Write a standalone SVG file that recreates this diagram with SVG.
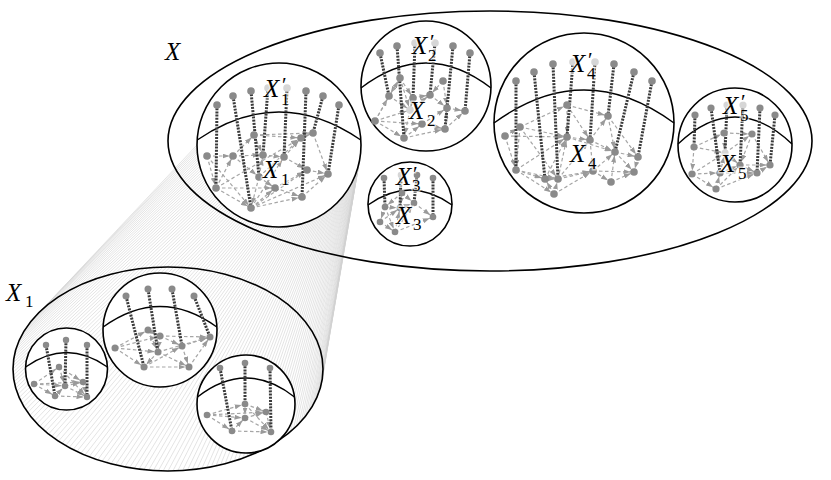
<svg xmlns="http://www.w3.org/2000/svg" width="831" height="480" viewBox="0 0 831 480">
<style>
.hatch{stroke:#d2d2d2;stroke-width:0.6;fill:none}
.ring{fill:#fff;stroke:#000;stroke-width:1.6}
.outline{fill:none;stroke:#000;stroke-width:1.6}
.arc{fill:none;stroke:#000;stroke-width:1.4}
.e{stroke:#a6a6a6;stroke-width:1.2;stroke-dasharray:3.5 2.5;fill:none;marker-end:url(#ah)}
.p{stroke:#3a3a3a;stroke-width:3;stroke-dasharray:2 1.2}
.n{fill:#8a8a8a}
.nl{fill:#d6d6d6}
.lab{font-family:"Liberation Serif","DejaVu Serif",serif;font-style:italic;font-size:25px;fill:#000;paint-order:stroke;stroke:#fff;stroke-opacity:0.6;stroke-width:3px}
.sub{font-style:normal;font-size:17px}
.pr{font-style:normal;font-size:21px}
</style>
<defs>
<marker id="ah" viewBox="0 0 7 5" refX="10.5" refY="2.5" markerWidth="7" markerHeight="5" markerUnits="userSpaceOnUse" orient="auto"><path d="M0,0 L7,2.5 L0,5 z" fill="#9a9a9a"/></marker>
</defs>

<g id="cone">
<path class="hatch" d="M361,145L323,369M360.9,149.3L322.7,375.4M360.6,153.6L321.8,381.8M360,157.8L320.3,388.1M359.2,162.1L318.1,394.4M358.2,166.2L315.4,400.5M357,170.3L312.1,406.6M355.6,174.4L308.3,412.4M353.9,178.4L303.8,418.1M352.1,182.2L298.9,423.7M350,186L293.4,429M347.8,189.7L287.4,434M345.3,193.2L281,438.8M342.7,196.6L274.1,443.4M339.9,199.9L266.8,447.6M337,203L259.1,451.5M333.9,205.9L251.1,455.1M330.6,208.7L242.7,458.4M327.2,211.3L234,461.3M323.7,213.8L225.1,463.8M320,216L215.9,466M316.2,218.1L206.6,467.8M312.4,219.9L197,469.2M308.4,221.6L187.4,470.2M304.3,223L177.7,470.8M300.2,224.2L168,471M296.1,225.2L158.3,470.8M291.8,226L148.6,470.2M287.6,226.6L139,469.2M283.3,226.9L129.5,467.8M279,227L120.1,466M274.7,226.9L110.9,463.8M270.4,226.6L102,461.3M266.2,226L93.3,458.4M262,225.2L85,455.1M257.8,224.2L76.9,451.5M253.7,223L69.2,447.6M249.6,221.6L61.9,443.4M245.7,219.9L55,438.8M241.8,218.1L48.6,434M238,216L42.6,429M234.3,213.8L37.1,423.7M230.8,211.3L32.2,418.1M227.4,208.7L27.8,412.4M224.1,205.9L23.9,406.6M221,203L20.6,400.5M218.1,199.9L17.9,394.4M215.3,196.6L15.8,388.1M212.7,193.2L14.2,381.8M210.2,189.7L13.3,375.4M208,186L13,369M205.9,182.2L13.3,362.6M204.1,178.4L14.2,356.2M202.4,174.4L15.8,349.9M201,170.3L17.9,343.6M199.8,166.2L20.6,337.5M198.8,162.1L23.9,331.5M198,157.8L27.8,325.6M197.5,153.6L32.2,319.9M197.1,149.3L37.1,314.4M197,145L42.6,309.1"/>
<path class="hatch" d="M361,147.2L322.9,372.2M360.7,151.4L322.2,378.6M360.3,155.7L321,385M359.6,159.9L319.2,391.2M358.7,164.1L316.8,397.5M357.6,168.3L313.8,403.5M356.3,172.4L310.2,409.5M354.7,176.4L306,415.3M353,180.3L301.4,420.9M351,184.1L296.1,426.3M348.9,187.8L290.4,431.5M346.6,191.4L284.2,436.4M344,194.9L277.6,441.1M341.3,198.2L270.5,445.5M338.5,201.4L263,449.6M335.4,204.5L255.1,453.3M332.2,207.3L246.9,456.8M328.9,210L238.3,459.8M325.4,212.6L229.5,462.6M321.8,214.9L220.5,464.9M318.1,217L211.2,466.9M314.3,219L201.8,468.5M310.4,220.7L192.2,469.7M306.4,222.3L182.6,470.5M302.3,223.6L172.9,470.9M298.1,224.7L163.1,470.9M293.9,225.6L153.4,470.5M289.7,226.3L143.8,469.7M285.4,226.7L134.2,468.5M281.2,227L124.8,466.9M276.9,227L115.5,464.9M272.6,226.7L106.5,462.6M268.3,226.3L97.7,459.8M264.1,225.6L89.1,456.8M259.9,224.7L80.9,453.3M255.7,223.6L73.1,449.6M251.6,222.3L65.6,445.5M247.6,220.7L58.5,441.1M243.7,219L51.8,436.4M239.9,217L45.6,431.5M236.2,214.9L39.9,426.3M232.6,212.6L34.7,420.9M229.1,210L30,415.3M225.8,207.3L25.8,409.5M222.6,204.5L22.2,403.5M219.6,201.4L19.2,397.5M216.7,198.2L16.8,391.2M214,194.9L15,385M211.5,191.4L13.8,378.6M209.1,187.8L13.2,372.2M207,184.1L13.2,365.8M205,180.3L13.8,359.4M203.3,176.4L15,353.1M201.7,172.4L16.8,346.8M200.4,168.3L19.2,340.6M199.3,164.1L22.2,334.5M198.4,159.9L25.8,328.5M197.8,155.7L30,322.7M197.3,151.4L34.7,317.1M197.1,147.2L39.9,311.7"/>
</g>

<g id="X">
<ellipse class="outline" cx="490" cy="141" rx="322" ry="130"/>
<text class="lab" x="165" y="60">X</text>
</g>

<g id="X1big">
<ellipse class="outline" cx="168" cy="369" rx="155" ry="102"/>
<text class="lab" x="6" y="301">X<tspan class="sub" x="25" y="307">1</tspan></text>
</g>

<g id="X1">
<circle class="ring" cx="279" cy="145" r="82"/>
<path class="arc" d="M197.2,140 Q279,84 360.8,140"/>
<g>
<line class="e" x1="207" y1="156" x2="233" y2="156"/>
<line class="e" x1="207" y1="156" x2="216" y2="188"/>
<line class="e" x1="216" y1="188" x2="251" y2="208"/>
<line class="e" x1="207" y1="156" x2="251" y2="208"/>
<line class="e" x1="233" y1="156" x2="254" y2="135"/>
<line class="e" x1="233" y1="156" x2="259" y2="177"/>
<line class="e" x1="216" y1="188" x2="275" y2="188"/>
<line class="e" x1="251" y1="208" x2="275" y2="188"/>
<line class="e" x1="259" y1="177" x2="251" y2="208"/>
<line class="e" x1="251" y1="208" x2="302" y2="197"/>
<line class="e" x1="251" y1="208" x2="328" y2="174"/>
<line class="e" x1="251" y1="208" x2="307" y2="170"/>
<line class="e" x1="259" y1="177" x2="263" y2="155"/>
<line class="e" x1="259" y1="177" x2="275" y2="188"/>
<line class="e" x1="254" y1="135" x2="263" y2="155"/>
<line class="e" x1="254" y1="135" x2="301" y2="138"/>
<line class="e" x1="263" y1="155" x2="284" y2="157"/>
<line class="e" x1="284" y1="157" x2="301" y2="138"/>
<line class="e" x1="284" y1="157" x2="307" y2="170"/>
<line class="e" x1="301" y1="138" x2="313" y2="133"/>
<line class="e" x1="313" y1="133" x2="328" y2="174"/>
<line class="e" x1="307" y1="170" x2="328" y2="174"/>
<line class="e" x1="302" y1="197" x2="328" y2="174"/>
<line class="e" x1="275" y1="188" x2="302" y2="197"/>
<line class="e" x1="275" y1="188" x2="307" y2="170"/>
<line class="e" x1="233" y1="156" x2="263" y2="155"/>
<line class="e" x1="254" y1="135" x2="313" y2="133"/>
<line class="e" x1="216" y1="188" x2="233" y2="156"/>
<line class="e" x1="251" y1="208" x2="284" y2="157"/>
<line class="e" x1="259" y1="177" x2="301" y2="138"/>
<line class="e" x1="216" y1="188" x2="301" y2="138"/>
</g>
<g>
<line class="p" x1="217" y1="105" x2="216" y2="188"/>
<line class="p" x1="233" y1="96" x2="251" y2="208"/>
<line class="p" x1="251" y1="91" x2="259" y2="177"/>
<line class="p" x1="268" y1="88" x2="263" y2="155"/>
<line class="p" x1="287" y1="88" x2="284" y2="157"/>
<line class="p" x1="306" y1="91" x2="302" y2="197"/>
<line class="p" x1="323" y1="96" x2="313" y2="133"/>
<line class="p" x1="339" y1="105" x2="328" y2="174"/>
</g>
<g>
<circle class="n" cx="217" cy="105" r="3.8"/><circle class="n" cx="233" cy="96" r="3.8"/><circle class="n" cx="251" cy="91" r="3.8"/><circle class="nl" cx="268" cy="88" r="3.8"/><circle class="nl" cx="287" cy="88" r="3.8"/><circle class="n" cx="306" cy="91" r="3.8"/><circle class="n" cx="323" cy="96" r="3.8"/><circle class="n" cx="339" cy="105" r="3.8"/>
<circle class="n" cx="216" cy="188" r="3.8"/><circle class="n" cx="251" cy="208" r="3.8"/><circle class="n" cx="259" cy="177" r="3.8"/><circle class="n" cx="263" cy="155" r="3.8"/><circle class="n" cx="284" cy="157" r="3.8"/><circle class="n" cx="302" cy="197" r="3.8"/><circle class="n" cx="313" cy="133" r="3.8"/><circle class="n" cx="328" cy="174" r="3.8"/>
<circle class="n" cx="207" cy="156" r="3.8"/><circle class="n" cx="233" cy="156" r="3.8"/><circle class="n" cx="254" cy="135" r="3.8"/><circle class="n" cx="301" cy="138" r="3.8"/><circle class="n" cx="275" cy="188" r="3.8"/><circle class="n" cx="307" cy="170" r="3.8"/>
</g>
<text class="lab" x="264" y="97">X<tspan class="pr" x="282" y="92">′</tspan><tspan class="sub" x="281" y="105">1</tspan></text>
<text class="lab" x="263" y="178">X<tspan class="sub" x="281" y="185">1</tspan></text>
</g>

<g id="X2">
<circle class="ring" cx="426" cy="86" r="65"/>
<path class="arc" d="M361,88 Q426,38 491,88"/>
<g>
<line class="e" x1="375" y1="121" x2="389" y2="96"/>
<line class="e" x1="375" y1="121" x2="404" y2="138"/>
<line class="e" x1="375" y1="121" x2="422" y2="124"/>
<line class="e" x1="375" y1="121" x2="410" y2="110"/>
<line class="e" x1="400" y1="78" x2="389" y2="96"/>
<line class="e" x1="389" y1="96" x2="410" y2="110"/>
<line class="e" x1="400" y1="78" x2="410" y2="110"/>
<line class="e" x1="400" y1="78" x2="413" y2="98"/>
<line class="e" x1="404" y1="138" x2="422" y2="124"/>
<line class="e" x1="410" y1="110" x2="404" y2="138"/>
<line class="e" x1="404" y1="138" x2="445" y2="129"/>
<line class="e" x1="422" y1="124" x2="445" y2="129"/>
<line class="e" x1="422" y1="124" x2="447" y2="108"/>
<line class="e" x1="413" y1="98" x2="410" y2="110"/>
<line class="e" x1="410" y1="110" x2="430" y2="95"/>
<line class="e" x1="413" y1="98" x2="430" y2="95"/>
<line class="e" x1="443" y1="81" x2="430" y2="95"/>
<line class="e" x1="443" y1="81" x2="447" y2="108"/>
<line class="e" x1="447" y1="108" x2="465" y2="111"/>
<line class="e" x1="445" y1="129" x2="465" y2="111"/>
<line class="e" x1="445" y1="129" x2="447" y2="108"/>
<line class="e" x1="430" y1="95" x2="447" y2="108"/>
<line class="e" x1="375" y1="121" x2="400" y2="78"/>
</g>
<g>
<line class="p" x1="380" y1="53" x2="389" y2="96"/>
<line class="p" x1="397" y1="46" x2="404" y2="138"/>
<line class="p" x1="415" y1="43" x2="413" y2="98"/>
<line class="p" x1="435" y1="43" x2="430" y2="95"/>
<line class="p" x1="453" y1="46" x2="445" y2="129"/>
<line class="p" x1="470" y1="53" x2="465" y2="111"/>
</g>
<g>
<circle class="n" cx="380" cy="53" r="3.8"/><circle class="n" cx="397" cy="46" r="3.8"/><circle class="nl" cx="415" cy="43" r="3.8"/><circle class="nl" cx="435" cy="43" r="3.8"/><circle class="n" cx="453" cy="46" r="3.8"/><circle class="n" cx="470" cy="53" r="3.8"/>
<circle class="n" cx="389" cy="96" r="3.8"/><circle class="n" cx="404" cy="138" r="3.8"/><circle class="n" cx="413" cy="98" r="3.8"/><circle class="n" cx="430" cy="95" r="3.8"/><circle class="n" cx="445" cy="129" r="3.8"/><circle class="n" cx="465" cy="111" r="3.8"/>
<circle class="n" cx="400" cy="78" r="3.8"/><circle class="n" cx="443" cy="81" r="3.8"/><circle class="n" cx="375" cy="121" r="3.8"/><circle class="n" cx="422" cy="124" r="3.8"/><circle class="n" cx="447" cy="108" r="3.8"/><circle class="nl" cx="410" cy="110" r="3.8"/>
</g>
<text class="lab" x="412" y="54">X<tspan class="pr" x="430" y="49">′</tspan><tspan class="sub" x="428" y="61">2</tspan></text>
<text class="lab" x="409" y="119">X<tspan class="sub" x="427" y="126">2</tspan></text>
</g>

<g id="X3">
<circle class="ring" cx="410" cy="204" r="42"/>
<path class="arc" d="M368,205 Q410,175 452,205"/>
<g>
<line class="e" x1="385" y1="207" x2="380" y2="222"/>
<line class="e" x1="385" y1="207" x2="395" y2="232"/>
<line class="e" x1="385" y1="207" x2="400" y2="208"/>
<line class="e" x1="395" y1="232" x2="400" y2="208"/>
<line class="e" x1="400" y1="208" x2="414" y2="203"/>
<line class="e" x1="402" y1="193" x2="400" y2="208"/>
<line class="e" x1="402" y1="193" x2="414" y2="203"/>
<line class="e" x1="414" y1="203" x2="433" y2="217"/>
<line class="e" x1="380" y1="222" x2="395" y2="232"/>
<line class="e" x1="395" y1="232" x2="433" y2="217"/>
<line class="e" x1="380" y1="222" x2="400" y2="208"/>
<line class="e" x1="402" y1="193" x2="385" y2="207"/>
<line class="e" x1="395" y1="232" x2="414" y2="203"/>
</g>
<g>
<line class="p" x1="384" y1="178" x2="385" y2="207"/>
<line class="p" x1="401" y1="175" x2="400" y2="208"/>
<line class="p" x1="417" y1="175" x2="414" y2="203"/>
<line class="p" x1="433" y1="178" x2="433" y2="217"/>
</g>
<g>
<circle class="n" cx="384" cy="178" r="3.3"/><circle class="nl" cx="401" cy="175" r="3.3"/><circle class="n" cx="417" cy="175" r="3.3"/><circle class="n" cx="433" cy="178" r="3.3"/>
<circle class="n" cx="385" cy="207" r="3.3"/><circle class="n" cx="400" cy="208" r="3.3"/><circle class="n" cx="414" cy="203" r="3.3"/><circle class="n" cx="433" cy="217" r="3.3"/>
<circle class="n" cx="380" cy="222" r="3.3"/><circle class="n" cx="395" cy="232" r="3.3"/><circle class="n" cx="402" cy="193" r="3.3"/>
</g>
<text class="lab" x="396" y="185">X<tspan class="pr" x="413" y="181">′</tspan><tspan class="sub" x="412" y="191">3</tspan></text>
<text class="lab" x="396" y="224">X<tspan class="sub" x="413" y="230">3</tspan></text>
</g>

<g id="X4">
<circle class="ring" cx="584" cy="123" r="90"/>
<path class="arc" d="M494,123 Q584,57 674,123"/>
<g>
<line class="e" x1="505" y1="136" x2="520" y2="127"/>
<line class="e" x1="505" y1="136" x2="516" y2="170"/>
<line class="e" x1="520" y1="127" x2="516" y2="170"/>
<line class="e" x1="520" y1="127" x2="567" y2="137"/>
<line class="e" x1="520" y1="127" x2="567" y2="105"/>
<line class="e" x1="516" y1="170" x2="545" y2="179"/>
<line class="e" x1="516" y1="170" x2="558" y2="179"/>
<line class="e" x1="516" y1="170" x2="554" y2="194"/>
<line class="e" x1="545" y1="179" x2="558" y2="179"/>
<line class="e" x1="545" y1="179" x2="567" y2="137"/>
<line class="e" x1="554" y1="194" x2="545" y2="179"/>
<line class="e" x1="558" y1="179" x2="567" y2="137"/>
<line class="e" x1="558" y1="179" x2="590" y2="140"/>
<line class="e" x1="558" y1="179" x2="593" y2="171"/>
<line class="e" x1="554" y1="194" x2="558" y2="179"/>
<line class="e" x1="554" y1="194" x2="593" y2="171"/>
<line class="e" x1="567" y1="137" x2="590" y2="140"/>
<line class="e" x1="567" y1="105" x2="567" y2="137"/>
<line class="e" x1="567" y1="105" x2="608" y2="116"/>
<line class="e" x1="590" y1="140" x2="608" y2="116"/>
<line class="e" x1="590" y1="140" x2="615" y2="152"/>
<line class="e" x1="590" y1="140" x2="593" y2="171"/>
<line class="e" x1="608" y1="116" x2="615" y2="152"/>
<line class="e" x1="608" y1="116" x2="638" y2="157"/>
<line class="e" x1="615" y1="152" x2="638" y2="157"/>
<line class="e" x1="593" y1="171" x2="615" y2="152"/>
<line class="e" x1="611" y1="182" x2="615" y2="152"/>
<line class="e" x1="615" y1="152" x2="634" y2="172"/>
<line class="e" x1="593" y1="171" x2="611" y2="182"/>
<line class="e" x1="611" y1="182" x2="634" y2="172"/>
<line class="e" x1="638" y1="157" x2="634" y2="172"/>
<line class="e" x1="593" y1="171" x2="634" y2="172"/>
<line class="e" x1="545" y1="179" x2="593" y2="171"/>
<line class="e" x1="567" y1="137" x2="615" y2="152"/>
<line class="e" x1="520" y1="127" x2="558" y2="179"/>
<line class="e" x1="505" y1="136" x2="567" y2="137"/>
<line class="e" x1="567" y1="105" x2="590" y2="140"/>
<line class="e" x1="516" y1="170" x2="567" y2="137"/>
</g>
<g>
<line class="p" x1="516" y1="81" x2="516" y2="170"/>
<line class="p" x1="534" y1="72" x2="545" y2="179"/>
<line class="p" x1="553" y1="64" x2="558" y2="179"/>
<line class="p" x1="573" y1="62" x2="567" y2="137"/>
<line class="p" x1="595" y1="62" x2="590" y2="140"/>
<line class="p" x1="614" y1="64" x2="608" y2="116"/>
<line class="p" x1="634" y1="72" x2="615" y2="152"/>
<line class="p" x1="652" y1="81" x2="638" y2="157"/>
</g>
<g>
<circle class="n" cx="516" cy="81" r="3.8"/><circle class="n" cx="534" cy="72" r="3.8"/><circle class="n" cx="553" cy="64" r="3.8"/><circle class="nl" cx="573" cy="62" r="3.8"/><circle class="nl" cx="595" cy="62" r="3.8"/><circle class="n" cx="614" cy="64" r="3.8"/><circle class="n" cx="634" cy="72" r="3.8"/><circle class="n" cx="652" cy="81" r="3.8"/>
<circle class="n" cx="516" cy="170" r="3.8"/><circle class="n" cx="545" cy="179" r="3.8"/><circle class="n" cx="558" cy="179" r="3.8"/><circle class="n" cx="567" cy="137" r="3.8"/><circle class="n" cx="590" cy="140" r="3.8"/><circle class="n" cx="608" cy="116" r="3.8"/><circle class="n" cx="615" cy="152" r="3.8"/><circle class="n" cx="638" cy="157" r="3.8"/>
<circle class="n" cx="505" cy="136" r="3.8"/><circle class="n" cx="520" cy="127" r="3.8"/><circle class="n" cx="567" cy="105" r="3.8"/><circle class="n" cx="593" cy="171" r="3.8"/><circle class="n" cx="611" cy="182" r="3.8"/><circle class="n" cx="554" cy="194" r="3.8"/><circle class="n" cx="634" cy="172" r="3.8"/>
</g>
<text class="lab" x="570" y="72">X<tspan class="pr" x="588" y="67">′</tspan><tspan class="sub" x="587" y="79">4</tspan></text>
<text class="lab" x="570" y="162">X<tspan class="sub" x="588" y="169">4</tspan></text>
</g>

<g id="X5">
<circle class="ring" cx="735" cy="145" r="57"/>
<path class="arc" d="M678,144 Q735,90 792,144"/>
<g>
<line class="e" x1="694" y1="147" x2="692" y2="174"/>
<line class="e" x1="694" y1="147" x2="724" y2="133"/>
<line class="e" x1="694" y1="147" x2="725" y2="153"/>
<line class="e" x1="692" y1="174" x2="720" y2="173"/>
<line class="e" x1="692" y1="174" x2="725" y2="153"/>
<line class="e" x1="692" y1="174" x2="716" y2="189"/>
<line class="e" x1="720" y1="173" x2="725" y2="153"/>
<line class="e" x1="716" y1="189" x2="720" y2="173"/>
<line class="e" x1="720" y1="173" x2="740" y2="165"/>
<line class="e" x1="724" y1="133" x2="725" y2="153"/>
<line class="e" x1="725" y1="153" x2="752" y2="134"/>
<line class="e" x1="725" y1="153" x2="740" y2="165"/>
<line class="e" x1="724" y1="133" x2="752" y2="134"/>
<line class="e" x1="752" y1="134" x2="740" y2="165"/>
<line class="e" x1="752" y1="134" x2="770" y2="165"/>
<line class="e" x1="740" y1="165" x2="757" y2="173"/>
<line class="e" x1="740" y1="165" x2="770" y2="165"/>
<line class="e" x1="757" y1="173" x2="770" y2="165"/>
<line class="e" x1="716" y1="189" x2="757" y2="173"/>
<line class="e" x1="716" y1="189" x2="740" y2="165"/>
<line class="e" x1="720" y1="173" x2="757" y2="173"/>
</g>
<g>
<line class="p" x1="695" y1="115" x2="694" y2="147"/>
<line class="p" x1="711" y1="108" x2="720" y2="173"/>
<line class="p" x1="727" y1="105" x2="725" y2="153"/>
<line class="p" x1="743" y1="105" x2="740" y2="165"/>
<line class="p" x1="760" y1="108" x2="757" y2="173"/>
<line class="p" x1="775" y1="115" x2="770" y2="165"/>
</g>
<g>
<circle class="n" cx="695" cy="115" r="3.6"/><circle class="n" cx="711" cy="108" r="3.6"/><circle class="nl" cx="727" cy="105" r="3.6"/><circle class="nl" cx="743" cy="105" r="3.6"/><circle class="n" cx="760" cy="108" r="3.6"/><circle class="n" cx="775" cy="115" r="3.6"/>
<circle class="n" cx="694" cy="147" r="3.6"/><circle class="n" cx="720" cy="173" r="3.6"/><circle class="nl" cx="725" cy="153" r="3.6"/><circle class="n" cx="740" cy="165" r="3.6"/><circle class="n" cx="757" cy="173" r="3.6"/><circle class="n" cx="770" cy="165" r="3.6"/>
<circle class="n" cx="692" cy="174" r="3.6"/><circle class="n" cx="752" cy="134" r="3.6"/><circle class="n" cx="724" cy="133" r="3.6"/><circle class="n" cx="716" cy="189" r="3.6"/>
</g>
<text class="lab" x="723" y="114">X<tspan class="pr" x="741" y="109">′</tspan><tspan class="sub" x="740" y="121">5</tspan></text>
<text class="lab" x="720" y="172">X<tspan class="sub" x="738" y="179">5</tspan></text>
</g>

<g id="X1a">
<circle class="ring" cx="66.5" cy="369" r="41"/>
<path class="arc" d="M25.6,367 Q66.5,338 107.4,367"/>
<g>
<line class="e" x1="34" y1="384" x2="55" y2="396"/>
<line class="e" x1="34" y1="384" x2="65" y2="386"/>
<line class="e" x1="34" y1="384" x2="59" y2="367"/>
<line class="e" x1="59" y1="367" x2="65" y2="386"/>
<line class="e" x1="59" y1="367" x2="83" y2="382"/>
<line class="e" x1="65" y1="386" x2="83" y2="382"/>
<line class="e" x1="65" y1="386" x2="87" y2="397"/>
<line class="e" x1="55" y1="396" x2="87" y2="397"/>
<line class="e" x1="55" y1="396" x2="65" y2="386"/>
<line class="e" x1="83" y1="382" x2="87" y2="397"/>
<line class="e" x1="34" y1="384" x2="83" y2="382"/>
<line class="e" x1="59" y1="367" x2="87" y2="397"/>
</g>
<g>
<line class="p" x1="46" y1="345" x2="55" y2="396"/>
<line class="p" x1="66" y1="340" x2="65" y2="386"/>
<line class="p" x1="87" y1="345" x2="87" y2="397"/>
</g>
<g>
<circle class="n" cx="46" cy="345" r="3.2"/><circle class="n" cx="66" cy="340" r="3.2"/><circle class="n" cx="87" cy="345" r="3.2"/>
<circle class="n" cx="55" cy="396" r="3.2"/><circle class="n" cx="65" cy="386" r="3.2"/><circle class="n" cx="87" cy="397" r="3.2"/>
<circle class="n" cx="34" cy="384" r="3.2"/><circle class="n" cx="59" cy="367" r="3.2"/><circle class="n" cx="83" cy="382" r="3.2"/>
</g>
</g>

<g id="X1b">
<circle class="ring" cx="160" cy="330" r="57"/>
<path class="arc" d="M103.2,327 Q160,286 216.8,327"/>
<g>
<line class="e" x1="115" y1="348" x2="144" y2="367"/>
<line class="e" x1="115" y1="348" x2="158" y2="352"/>
<line class="e" x1="115" y1="348" x2="148" y2="330"/>
<line class="e" x1="148" y1="330" x2="160" y2="336"/>
<line class="e" x1="148" y1="330" x2="158" y2="352"/>
<line class="e" x1="160" y1="336" x2="158" y2="352"/>
<line class="e" x1="160" y1="336" x2="182" y2="346"/>
<line class="e" x1="158" y1="352" x2="144" y2="367"/>
<line class="e" x1="144" y1="367" x2="189" y2="367"/>
<line class="e" x1="158" y1="352" x2="189" y2="367"/>
<line class="e" x1="182" y1="346" x2="189" y2="367"/>
<line class="e" x1="182" y1="346" x2="210" y2="337"/>
<line class="e" x1="189" y1="367" x2="210" y2="337"/>
<line class="e" x1="144" y1="367" x2="182" y2="346"/>
<line class="e" x1="160" y1="336" x2="210" y2="337"/>
<line class="e" x1="115" y1="348" x2="160" y2="336"/>
<line class="e" x1="158" y1="352" x2="210" y2="337"/>
</g>
<g>
<line class="p" x1="126" y1="296" x2="144" y2="367"/>
<line class="p" x1="148" y1="289" x2="158" y2="352"/>
<line class="p" x1="172" y1="289" x2="182" y2="346"/>
<line class="p" x1="194" y1="296" x2="210" y2="337"/>
</g>
<g>
<circle class="n" cx="126" cy="296" r="3.5"/><circle class="n" cx="148" cy="289" r="3.5"/><circle class="n" cx="172" cy="289" r="3.5"/><circle class="n" cx="194" cy="296" r="3.5"/>
<circle class="n" cx="144" cy="367" r="3.5"/><circle class="n" cx="158" cy="352" r="3.5"/><circle class="n" cx="182" cy="346" r="3.5"/><circle class="n" cx="210" cy="337" r="3.5"/>
<circle class="n" cx="115" cy="348" r="3.5"/><circle class="n" cx="148" cy="330" r="3.5"/><circle class="n" cx="189" cy="367" r="3.5"/><circle class="n" cx="160" cy="336" r="3.5"/>
</g>
</g>

<g id="X1c">
<circle class="ring" cx="246" cy="404" r="49"/>
<path class="arc" d="M197.5,397 Q246,359 294.5,397"/>
<g>
<line class="e" x1="207" y1="415" x2="232" y2="431"/>
<line class="e" x1="207" y1="415" x2="245" y2="404"/>
<line class="e" x1="207" y1="415" x2="245" y2="418"/>
<line class="e" x1="232" y1="431" x2="245" y2="418"/>
<line class="e" x1="245" y1="404" x2="245" y2="418"/>
<line class="e" x1="245" y1="404" x2="266" y2="412"/>
<line class="e" x1="245" y1="418" x2="266" y2="412"/>
<line class="e" x1="245" y1="418" x2="271" y2="432"/>
<line class="e" x1="232" y1="431" x2="271" y2="432"/>
<line class="e" x1="266" y1="412" x2="271" y2="432"/>
<line class="e" x1="207" y1="415" x2="266" y2="412"/>
<line class="e" x1="245" y1="404" x2="271" y2="432"/>
</g>
<g>
<line class="p" x1="220" y1="368" x2="232" y2="431"/>
<line class="p" x1="245" y1="363" x2="245" y2="404"/>
<line class="p" x1="270" y1="368" x2="271" y2="432"/>
</g>
<g>
<circle class="n" cx="220" cy="368" r="3.3"/><circle class="n" cx="245" cy="363" r="3.3"/><circle class="n" cx="270" cy="368" r="3.3"/>
<circle class="n" cx="232" cy="431" r="3.3"/><circle class="n" cx="245" cy="404" r="3.3"/><circle class="n" cx="271" cy="432" r="3.3"/>
<circle class="n" cx="207" cy="415" r="3.3"/><circle class="n" cx="245" cy="418" r="3.3"/><circle class="n" cx="266" cy="412" r="3.3"/>
</g>
</g>
</svg>
